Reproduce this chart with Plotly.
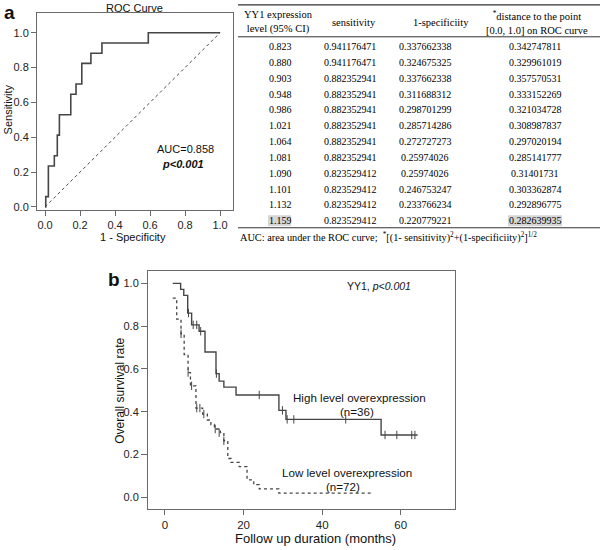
import plotly.graph_objects as go

W, H = 600, 550

# ---------------- data ----------------
# ROC curve (1-specificity, sensitivity) step vertices
roc_fpr = [0.0, 0.004, 0.004, 0.019, 0.019, 0.053, 0.053, 0.070, 0.070, 0.082, 0.082,
           0.147, 0.147, 0.177, 0.177, 0.210, 0.210, 0.262, 0.262, 0.325, 0.325, 0.590, 0.590, 1.0]
roc_tpr = [0.0, 0.0, 0.059, 0.059, 0.235, 0.235, 0.294, 0.294, 0.412, 0.412, 0.529,
           0.529, 0.647, 0.647, 0.706, 0.706, 0.824, 0.824, 0.882, 0.882, 0.941, 0.941, 1.0, 1.0]
ref_line = [0.0, 1.0]

# Table
cutoffs = [0.823, 0.880, 0.903, 0.948, 0.986, 1.021, 1.064, 1.081, 1.090, 1.101, 1.132, 1.159]
sensitivity = [0.941176471, 0.941176471, 0.882352941, 0.882352941, 0.882352941, 0.882352941,
               0.882352941, 0.882352941, 0.823529412, 0.823529412, 0.823529412, 0.823529412]
one_minus_spec = [0.337662338, 0.324675325, 0.337662338, 0.311688312, 0.298701299, 0.285714286,
                  0.272727273, 0.25974026, 0.25974026, 0.246753247, 0.233766234, 0.220779221]
distance = [0.342747811, 0.329961019, 0.357570531, 0.333152269, 0.321034728, 0.308987837,
            0.297020194, 0.285141777, 0.31401731, 0.303362874, 0.292896775, 0.282639935]
col_headers = ["YY1 expression<br>level (95% CI)", "sensitivity", "1-specificiity",
               "<sup>*</sup>distance to the point<br>[0.0, 1.0] on ROC curve"]

# Kaplan-Meier: high level overexpression (n=36)
hi_t = [2.0, 4.0, 4.8, 5.8, 6.8, 8.7, 10.2, 13.0, 13.8, 15.0, 18.1, 29.0, 30.8, 55.0, 64.3]
hi_s = [1.0, 0.972, 0.944, 0.861, 0.806, 0.776, 0.679, 0.578, 0.543, 0.515, 0.478, 0.406, 0.364, 0.291, 0.291]
hi_cens_t = [6.0, 7.2, 8.1, 9.1, 13.1, 24.0, 29.9, 31.1, 32.8, 46.0, 56.0, 59.0, 62.8, 63.6]
hi_cens_s = [0.861, 0.806, 0.806, 0.776, 0.578, 0.478, 0.406, 0.364, 0.364, 0.364, 0.291, 0.291, 0.291, 0.291]

# Kaplan-Meier: low level overexpression (n=72)
lo_t = [2.0, 3.0, 4.1, 4.9, 5.9, 6.5, 7.9, 9.6, 10.8, 11.7, 12.6, 14.1, 15.0, 16.0, 16.8,
        18.9, 20.9, 22.6, 24.0, 29.0, 53.0]
lo_s = [0.931, 0.833, 0.764, 0.667, 0.583, 0.521, 0.417, 0.389, 0.361, 0.340, 0.319, 0.302,
        0.264, 0.181, 0.163, 0.143, 0.081, 0.059, 0.039, 0.019, 0.019]
lo_cens_t = [4.1, 5.9, 6.8, 8.1, 8.9, 9.9, 12.8, 13.8, 15.0]
lo_cens_s = [0.764, 0.583, 0.521, 0.417, 0.417, 0.389, 0.319, 0.302, 0.264]

# ---------------- helpers ----------------
def px(x):
    return x / W

def py(y):
    return 1 - y / H

LINE = "#454545"
AX = "#6a6a6a"
SANS = "Arial, Liberation Sans, sans-serif"
SERIF = "Times New Roman, Liberation Serif, serif"

fig = go.Figure()

# ROC
fig.add_trace(go.Scatter(x=roc_fpr, y=roc_tpr, mode="lines", line=dict(color=LINE, width=1.6),
                         xaxis="x", yaxis="y", showlegend=False, hoverinfo="skip"))
fig.add_trace(go.Scatter(x=ref_line, y=ref_line, mode="lines", line=dict(color="#333", width=0.9, dash="dot"),
                         xaxis="x", yaxis="y", showlegend=False, hoverinfo="skip"))

# KM
fig.add_trace(go.Scatter(x=hi_t, y=hi_s, mode="lines", line=dict(color=LINE, width=1.4, shape="hv"),
                         xaxis="x2", yaxis="y2", showlegend=False, hoverinfo="skip"))
fig.add_trace(go.Scatter(x=hi_cens_t, y=hi_cens_s, mode="markers",
                         marker=dict(symbol="line-ns", size=6, line=dict(color=LINE, width=1)),
                         xaxis="x2", yaxis="y2", showlegend=False, hoverinfo="skip"))
fig.add_trace(go.Scatter(x=lo_t, y=lo_s, mode="lines", line=dict(color=LINE, width=1.3, shape="hv", dash="dot"),
                         xaxis="x2", yaxis="y2", showlegend=False, hoverinfo="skip"))
fig.add_trace(go.Scatter(x=lo_cens_t, y=lo_cens_s, mode="markers",
                         marker=dict(symbol="line-ns", size=6, line=dict(color=LINE, width=1)),
                         xaxis="x2", yaxis="y2", showlegend=False, hoverinfo="skip"))

tickfont = dict(family=SANS, size=11, color="#222")
ticks01 = [0, 0.2, 0.4, 0.6, 0.8, 1.0]
ticks01_txt = ["0.0", "0.2", "0.4", "0.6", "0.8", "1.0"]

fig.update_layout(
    width=W, height=H, margin=dict(l=0, r=0, t=0, b=0),
    paper_bgcolor="white", plot_bgcolor="white",
    xaxis=dict(domain=[px(37), px(233)], range=[-0.046, 1.074], tickvals=ticks01,
               ticktext=ticks01_txt, ticks="outside", ticklen=5,
               tickcolor=AX, showline=True, linecolor=AX, mirror=True, showgrid=False, zeroline=False,
               tickfont=tickfont, anchor="y"),
    yaxis=dict(domain=[py(211), py(13)], range=[-0.017, 1.114], tickvals=ticks01,
               ticktext=ticks01_txt, ticks="outside", ticklen=5,
               tickcolor=AX, showline=True, linecolor=AX, mirror=True, showgrid=False, zeroline=False,
               tickfont=tickfont, anchor="x"),
    xaxis2=dict(domain=[px(148), px(455)], range=[-4.3, 73.8], tickvals=[0, 20, 40, 60],
                ticks="outside", ticklen=5, tickcolor=AX, showline=True, linecolor=AX, mirror=True,
                showgrid=False, zeroline=False, tickfont=dict(family=SANS, size=11.5, color="#222"),
                anchor="y2"),
    yaxis2=dict(domain=[py(512), py(272)], range=[-0.056, 1.06], tickvals=ticks01,
                ticktext=ticks01_txt, ticks="outside", ticklen=6,
                tickcolor=AX, showline=True, linecolor=AX, mirror=True, showgrid=False, zeroline=False,
                tickfont=tickfont, anchor="x2"),
)

ann = []

def text(x, y, s, size=11, family=SANS, xanchor="center", yanchor="middle", angle=0, color="#111"):
    ann.append(dict(x=px(x), y=py(y), xref="paper", yref="paper", text=s, showarrow=False,
                    font=dict(family=family, size=size, color=color), xanchor=xanchor,
                    yanchor=yanchor, textangle=angle, align="center"))

# panel labels
text(2, 0, "<b>a</b>", size=19, xanchor="left", yanchor="top")
text(106, 281, "<b>b</b>", size=19, xanchor="left")

# ROC texts
text(134, 0, "ROC Curve", size=11, yanchor="top")
text(0, 110, "Sensitivity", size=11, angle=-90, xanchor="left")
text(133, 238, "1 - Specificity", size=11)
text(185, 150, "AUC=0.858", size=11)
text(183, 165, "<b><i>p<0.001</i></b>", size=11)

# KM texts
text(345, 288, "YY1, <i>p<0.001</i>", size=10.5, xanchor="left")
text(120, 393, "Overall survival rate", size=12, angle=-90)
text(316, 541, "Follow up duration (months)", size=13)
text(359, 400, "High level overexpression", size=11.6)
text(357, 414, "(n=36)", size=11.6)
text(347, 475, "Low level overexpression", size=11.6)
text(343, 489, "(n=72)", size=11.6)

# Table
head_x = [278, 354, 441, 537]
col_x = [280, 350, 425, 535]
for cx, h in zip(head_x, col_headers):
    text(cx, 22.5, h, size=10.5, family=SERIF, color="#000")
row_y0, row_dy = 47, 15.9
shapes = []
for i in range(len(cutoffs)):
    y = row_y0 + i * row_dy
    vals = [f"{cutoffs[i]:.3f}", repr(sensitivity[i]), repr(one_minus_spec[i]), repr(distance[i])]
    for cx, v in zip(col_x, vals):
        text(cx, y, v, size=10, family=SERIF, color="#000")

last_y = row_y0 + (len(cutoffs) - 1) * row_dy
shapes.append(dict(type="rect", xref="paper", yref="paper", x0=px(268), x1=px(291), y0=py(last_y + 5.5),
                   y1=py(last_y - 5.5), fillcolor="#d6d6d6", line=dict(width=0), layer="below"))
shapes.append(dict(type="rect", xref="paper", yref="paper", x0=px(508), x1=px(562), y0=py(last_y + 5.5),
                   y1=py(last_y - 5.5), fillcolor="#d6d6d6", line=dict(width=0), layer="below"))
for yl, w in [(5, 1.3), (37, 1.0), (229, 1.0)]:
    shapes.append(dict(type="line", xref="paper", yref="paper", x0=px(238), x1=px(600), y0=py(yl), y1=py(yl),
                       line=dict(color="#333", width=w)))

text(238, 239, "AUC: area under the ROC curve;  <sup>*</sup>[(1- sensitivity)<sup>2</sup>+(1-specificiity)<sup>2</sup>]<sup>1/2</sup>",
     size=10.3, family=SERIF, xanchor="left", color="#000")

fig.update_layout(annotations=ann, shapes=shapes)
# remove the default 8px page margin so the figure starts at the window's corner; hide the modebar
fig.write_html("out.html", config={"displayModeBar": False},
               post_script="document.body.style.margin='0px';")
